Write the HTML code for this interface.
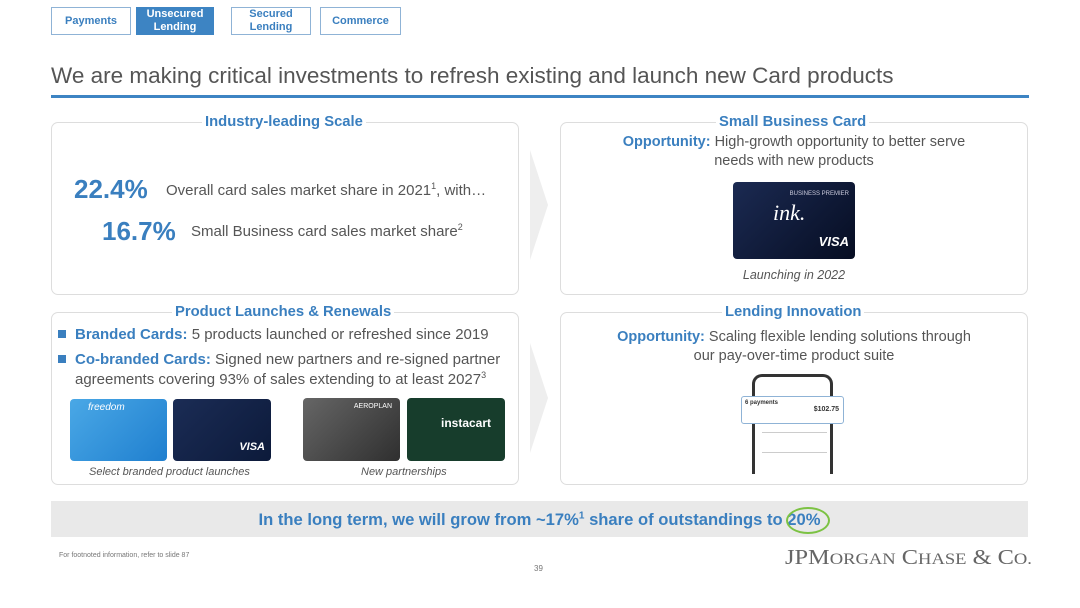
<!DOCTYPE html>
<html><head><meta charset="utf-8"><style>
*{margin:0;padding:0;box-sizing:border-box}
body{width:1080px;height:608px;background:#fff;font-family:"Liberation Sans",Arial,sans-serif;position:relative;overflow:hidden;color:#555}
.a{position:absolute}
.tab{position:absolute;top:7px;height:28px;border:1px solid #8fb3d6;color:#3a7fbf;font-weight:bold;font-size:11px;text-align:center;display:flex;align-items:center;justify-content:center;line-height:13px}
.panel{position:absolute;border:1px solid #ddd;border-radius:7px}
.hd{position:absolute;background:#fff;color:#3a7fbf;font-weight:bold;font-size:14.8px;padding:0 3px;white-space:nowrap}
.blue{color:#3a7fbf;font-weight:bold}
.card{position:absolute;border-radius:4px}
sup{line-height:0}
</style></head><body>
<div class="tab" style="left:51px;width:80px">Payments</div>
<div class="tab" style="left:136px;width:78px;background:#3d84c3;color:#fff;border-color:#3d84c3">Unsecured<br>Lending</div>
<div class="tab" style="left:231px;width:80px">Secured<br>Lending</div>
<div class="tab" style="left:320px;width:81px">Commerce</div>
<div class="a" style="left:51px;top:63px;font-size:22.5px;color:#555;white-space:nowrap">We are making critical investments to refresh existing and launch new Card products</div>
<div class="a" style="left:51px;top:95px;width:978px;height:3px;background:#3d84c3"></div>

<svg class="a" style="left:528px;top:150px" width="22" height="110"><polygon points="2,0 20,55 2,110" fill="#eee"/></svg>
<svg class="a" style="left:528px;top:343px" width="22" height="110"><polygon points="2,0 20,55 2,110" fill="#eee"/></svg>

<div class="panel" style="left:51px;top:122px;width:468px;height:173px"></div>
<div class="hd" style="left:202px;top:114px">Industry-leading Scale</div>
<div class="a" style="left:74px;top:174px;font-size:26px;color:#3a7fbf;font-weight:bold">22.4%</div>
<div class="a" style="left:166px;top:182px;font-size:15px">Overall card sales market share in 2021<sup style="font-size:9px">1</sup>, with…</div>
<div class="a" style="left:102px;top:216px;font-size:26px;color:#3a7fbf;font-weight:bold">16.7%</div>
<div class="a" style="left:191px;top:223px;font-size:15px">Small Business card sales market share<sup style="font-size:9px">2</sup></div>

<div class="panel" style="left:51px;top:312px;width:468px;height:173px"></div>
<div class="hd" style="left:172px;top:304px">Product Launches &amp; Renewals</div>
<div class="a" style="left:58px;top:330px;width:8px;height:8px;background:#3a7fbf"></div>
<div class="a" style="left:75px;top:326px;font-size:15px"><span class="blue">Branded Cards:</span> 5 products launched or refreshed since 2019</div>
<div class="a" style="left:58px;top:355px;width:8px;height:8px;background:#3a7fbf"></div>
<div class="a" style="left:75px;top:350px;font-size:15px;line-height:20px;width:440px"><span class="blue">Co-branded Cards:</span> Signed new partners and re-signed partner agreements covering 93% of sales extending to at least 2027<sup style="font-size:9px">3</sup></div>
<div class="card" style="left:70px;top:399px;width:97px;height:62px;background:linear-gradient(135deg,#4aa8e6,#1f7fcf)"><span style="position:absolute;left:18px;top:3px;color:#fff;font-style:italic;font-size:10px">freedom</span></div>
<div class="card" style="left:173px;top:399px;width:98px;height:62px;background:linear-gradient(135deg,#1b2c55,#0c1a3a)"><span style="position:absolute;right:6px;bottom:8px;color:#fff;font-weight:bold;font-style:italic;font-size:11px">VISA</span></div>
<div class="card" style="left:303px;top:398px;width:97px;height:63px;background:linear-gradient(135deg,#666,#2f2f2f)"><span style="position:absolute;right:8px;top:5px;color:#fff;font-size:7px">AEROPLAN</span></div>
<div class="card" style="left:407px;top:398px;width:98px;height:63px;background:#173d2c"><span style="position:absolute;left:34px;top:18px;color:#fff;font-weight:bold;font-size:12px">instacart</span></div>
<div class="a" style="left:89px;top:466px;font-size:11px;font-style:italic">Select branded product launches</div>
<div class="a" style="left:361px;top:466px;font-size:11px;font-style:italic">New partnerships</div>

<div class="panel" style="left:560px;top:122px;width:468px;height:173px"></div>
<div class="hd" style="left:716px;top:114px">Small Business Card</div>
<div class="a" style="left:560px;top:133px;width:468px;text-align:center;font-size:14.5px;line-height:19px"><span class="blue">Opportunity:</span> High-growth opportunity to better serve<br>needs with new products</div>
<div class="card" style="left:733px;top:182px;width:122px;height:77px;background:linear-gradient(135deg,#1b2a52,#060d22)"><span style="position:absolute;right:6px;top:9px;color:#ccd;font-size:6px">BUSINESS PREMIER</span><span style="position:absolute;left:40px;top:18px;color:#fff;font-style:italic;font-size:22px;font-family:'Liberation Serif',serif">ink.</span><span style="position:absolute;right:6px;bottom:10px;color:#fff;font-weight:bold;font-style:italic;font-size:13px">VISA</span></div>
<div class="a" style="left:560px;top:268px;width:468px;text-align:center;font-size:12.5px;font-style:italic">Launching in 2022</div>

<div class="panel" style="left:560px;top:312px;width:468px;height:173px"></div>
<div class="hd" style="left:722px;top:304px">Lending Innovation</div>
<div class="a" style="left:560px;top:328px;width:468px;text-align:center;font-size:14.5px;line-height:19px"><span class="blue">Opportunity:</span> Scaling flexible lending solutions through<br>our pay-over-time product suite</div>
<div class="a" style="left:752px;top:374px;width:81px;height:100px;border:3px solid #333;border-bottom:none;border-radius:10px 10px 0 0;background:#fff"></div>
<div class="a" style="left:741px;top:396px;width:103px;height:28px;border:1px solid #8fb3d6;border-radius:3px;background:#fff;font-size:6px;color:#333;padding:3px"><b>6 payments</b><span style="position:absolute;right:4px;top:9px;font-size:7px;font-weight:bold">$102.75</span></div>
<div class="a" style="left:762px;top:432px;width:65px;height:1px;background:#ccc"></div>
<div class="a" style="left:762px;top:452px;width:65px;height:1px;background:#ccc"></div>

<div class="a" style="left:51px;top:501px;width:977px;height:36px;background:#e9e9e9"></div>
<div class="a" style="left:51px;top:510px;width:977px;text-align:center;font-size:16.6px;color:#3a7fbf;font-weight:bold">In the long term, we will grow from ~17%<sup style="font-size:10px">1</sup> share of outstandings to 20%</div>
<div class="a" style="left:786px;top:507px;width:44px;height:27px;border:2px solid #7cc243;border-radius:50%"></div>

<div class="a" style="left:59px;top:552px;font-size:7px;color:#777">For footnoted information, refer to slide 87</div>
<div class="a" style="left:534px;top:564px;font-size:8px;color:#777">39</div>
<div class="a" style="left:785px;top:545px;font-size:21px;color:#666;font-family:'Liberation Serif',serif;white-space:nowrap;transform-origin:left top;transform:scaleX(1.16)">JPM<span style="font-size:16px">ORGAN</span> C<span style="font-size:16px">HASE</span> &amp; C<span style="font-size:16px">O.</span></div>
</body></html>
